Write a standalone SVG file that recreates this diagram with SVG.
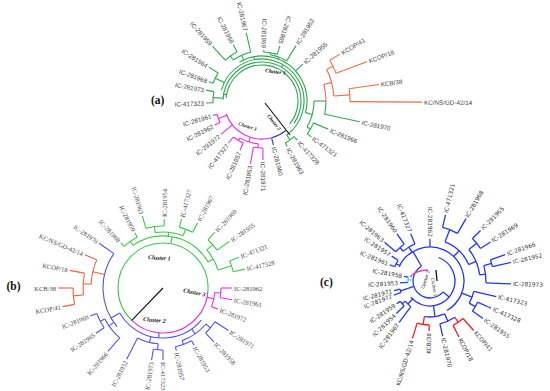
<svg xmlns="http://www.w3.org/2000/svg" width="550" height="391" viewBox="0 0 550 391">
<style>
circle,path{fill:none}
.ga{stroke:#2ea84e}.ra{stroke:#f26b45}.ma{stroke:#e62ee6}.ba{stroke:#3838d0}.k{stroke:#111}
.gb{stroke:#3cc94c}.rb{stroke:#f0603a}.mb{stroke:#e033e0}.bb{stroke:#5050ee}
.bc{stroke:#2436ee}.rc{stroke:#e8202a}.mc{stroke:#e83fd0}.cc{stroke:#33d6e6}
text{dominant-baseline:central}
.ta{font-family:"Liberation Sans",Arial,sans-serif;font-size:6.3px;fill:#444}
.tb{font-family:"Liberation Serif","Times New Roman",serif;font-size:6.5px;fill:#444}
.tc{font-family:"DejaVu Sans",Verdana,sans-serif;font-size:5.8px;fill:#333}
.e{text-anchor:end}
.cl{font-family:"Liberation Serif","Times New Roman",serif;font-weight:bold;font-style:italic;fill:#111;dominant-baseline:auto}
.cs{font-family:"DejaVu Sans",sans-serif;fill:#222;font-size:4.2px;dominant-baseline:auto}
.pl{font-family:"Liberation Serif","Times New Roman",serif;font-weight:bold;font-size:11.5px;fill:#111;dominant-baseline:auto}
</style>

<!-- ===== Panel (a) ===== -->
<g id="panel-a" transform="translate(262,101)">
<g id="a-connectors" stroke-width="1.1">
<g class="ga">
<circle r="36" pathLength="360" stroke-dasharray="215 360" transform="rotate(185)"/>
<circle r="39" pathLength="360" stroke-dasharray="213 360" transform="rotate(182)"/>
<circle r="42" pathLength="360" stroke-dasharray="219 360" transform="rotate(195)"/>
<circle r="45" pathLength="360" stroke-dasharray="135 360" transform="rotate(240)"/>
<line x1="36" x2="39" transform="rotate(190)"/>
<line x1="39" x2="42" transform="rotate(300)"/>
<line x1="42" x2="45" transform="rotate(260)"/>
<line x1="39" x2="49" transform="rotate(184)"/>
<circle r="49" pathLength="360" stroke-dasharray="13 360" transform="rotate(178)"/>
<line x1="49" x2="56" transform="rotate(178)"/>
<line x1="49" x2="57" transform="rotate(191)"/>
<line x1="42" x2="52" transform="rotate(206)"/>
<circle r="52" pathLength="360" stroke-dasharray="12.5 360" transform="rotate(200)"/>
<line x1="52" x2="56.5" transform="rotate(200)"/>
<line x1="52" x2="63" transform="rotate(212.5)"/>
<line x1="45" x2="50" transform="rotate(246)"/>
<circle r="50" pathLength="360" stroke-dasharray="22 360" transform="rotate(235)"/>
<line x1="50" x2="55" transform="rotate(235)"/>
<circle r="55" pathLength="360" stroke-dasharray="15 360" transform="rotate(228)"/>
<line x1="55" x2="74" transform="rotate(228)"/>
<line x1="55" x2="63" transform="rotate(243)"/>
<line x1="50" x2="70" transform="rotate(257)"/>
<line x1="45" x2="47" transform="rotate(291)"/>
<circle r="47" pathLength="360" stroke-dasharray="21.6 360" transform="rotate(280)"/>
<line x1="47" x2="49" transform="rotate(280)"/>
<circle r="49" pathLength="360" stroke-dasharray="16 360" transform="rotate(272)"/>
<line x1="49" x2="51" transform="rotate(272)"/>
<line x1="49" x2="58" transform="rotate(288)"/>
<line x1="47" x2="65" transform="rotate(301.6)"/>
<line x1="45" x2="55" transform="rotate(318)"/>
<line x1="45" x2="52" transform="rotate(15)"/>
<circle r="52" pathLength="360" stroke-dasharray="30 360"/>
<line x1="52" x2="64"/>
<circle r="64" pathLength="360" stroke-dasharray="12 360"/>
<line x1="64" x2="100" transform="rotate(12)"/>
<line x1="52" x2="56" transform="rotate(30)"/>
<circle r="56" pathLength="360" stroke-dasharray="13 360" transform="rotate(23)"/>
<line x1="56" x2="72" transform="rotate(23)"/>
<line x1="56" x2="61" transform="rotate(36)"/>
<line x1="42" x2="48" transform="rotate(54)"/>
<circle r="48" pathLength="360" stroke-dasharray="13 360" transform="rotate(48)"/>
<line x1="48" x2="53" transform="rotate(48)"/>
<line x1="48" x2="52" transform="rotate(61)"/>
</g>
<g class="ra">
<circle r="64" pathLength="360" stroke-dasharray="15 360" transform="rotate(345)"/>
<line x1="64" x2="72" transform="rotate(345)"/>
<circle r="72" pathLength="360" stroke-dasharray="22 360" transform="rotate(334)"/>
<line x1="72" x2="79" transform="rotate(334)"/>
<circle r="79" pathLength="360" stroke-dasharray="10.5 360" transform="rotate(329)"/>
<line x1="79" x2="91" transform="rotate(329)"/>
<line x1="79" x2="112" transform="rotate(339.5)"/>
<line x1="72" x2="88" transform="rotate(356)"/>
<circle r="88" pathLength="360" stroke-dasharray="8.4 360" transform="rotate(352)"/>
<line x1="88" x2="118" transform="rotate(352)"/>
<line x1="88" x2="160" transform="rotate(0.4)"/>
</g>
<g class="ba">
<circle r="38" pathLength="360" stroke-dasharray="24 360" transform="rotate(51)"/>
<line x1="38" x2="45.5" transform="rotate(75.4)"/>
</g>
<line class="k" x1="3" y1="2" x2="28" y2="34"/>
<g class="ma">
<circle r="38" pathLength="360" stroke-dasharray="85 360" transform="rotate(75)"/>
<line x1="38" x2="47" transform="rotate(158)"/>
<circle r="47" pathLength="360" stroke-dasharray="10.6 360" transform="rotate(153)"/>
<line x1="47" x2="53" transform="rotate(153)"/>
<line x1="47" x2="51" transform="rotate(163.6)"/>
<line x1="38" x2="53" transform="rotate(141)"/>
<line x1="38" x2="43" transform="rotate(108)"/>
<circle r="43" pathLength="360" stroke-dasharray="26 360" transform="rotate(95)"/>
<line x1="43" x2="46" transform="rotate(121)"/>
<circle r="46" pathLength="360" stroke-dasharray="14.5 360" transform="rotate(114)"/>
<line x1="46" x2="54" transform="rotate(114)"/>
<line x1="46" x2="54" transform="rotate(128.5)"/>
<line x1="43" x2="47" transform="rotate(95)"/>
<circle r="47" pathLength="360" stroke-dasharray="11.5 360" transform="rotate(89)"/>
<line x1="47" x2="59" transform="rotate(89)"/>
<line x1="47" x2="64" transform="rotate(100.5)"/>
</g>
</g>
<g id="a-IC-281967"><text class="ta e" x="-72" transform="rotate(77)">IC-281967</text></g>
<g id="a-IC-281958"><text class="ta e" x="-65" transform="rotate(63)">IC-281958</text></g>
<g id="a-IC-281959"><text class="ta e" x="-76" transform="rotate(48)">IC-281959</text></g>
<g id="a-IC-281964"><text class="ta e" x="-65" transform="rotate(32.5)">IC-281964</text></g>
<g id="a-IC-281968"><text class="ta e" x="-58.5" transform="rotate(20)">IC-281968</text></g>
<g id="a-IC-281973"><text class="ta e" x="-59" transform="rotate(10.7)">IC-281973</text></g>
<g id="a-IC-417323"><text class="ta e" x="-58" transform="rotate(-2)">IC-417323</text></g>
<g id="a-IC-281969"><text class="ta e" x="-53" transform="rotate(92)">IC-281969</text></g>
<g id="a-IC-281965"><text class="ta e" x="-60" transform="rotate(108)">IC-281965</text></g>
<g id="a-IC-281952"><text class="ta" x="67" transform="rotate(-58.4)">IC-281952</text></g>
<g id="a-IC-281955"><text class="ta" x="57" transform="rotate(-42)">IC-281955</text></g>
<g id="a-KCOP-41"><text class="ta" x="93" transform="rotate(-31)">KCOP/41</text></g>
<g id="a-KCOP-18"><text class="ta" x="114" transform="rotate(-20.5)">KCOP/18</text></g>
<g id="a-KCB-38"><text class="ta" x="120" transform="rotate(-8)">KCB/38</text></g>
<g id="a-KC-NS-GD-42-14"><text class="ta" x="162" transform="rotate(0.4)">KC/NS/GD-42/14</text></g>
<g id="a-IC-281970"><text class="ta" x="102" transform="rotate(12)">IC-281970</text></g>
<g id="a-IC-281966"><text class="ta" x="74" transform="rotate(23)">IC-281966</text></g>
<g id="a-IC-471321"><text class="ta" x="63" transform="rotate(36)">IC-471321</text></g>
<g id="a-IC-417328"><text class="ta" x="55" transform="rotate(48)">IC-417328</text></g>
<g id="a-IC-281963"><text class="ta" x="54" transform="rotate(61)">IC-281963</text></g>
<g id="a-IC-281960"><text class="ta" x="47.5" transform="rotate(75.4)">IC-281960</text></g>
<g id="a-IC-281971"><text class="ta" x="61" transform="rotate(89)">IC-281971</text></g>
<g id="a-IC-281953"><text class="ta e" x="-66" transform="rotate(-79.5)">IC-281953</text></g>
<g id="a-IC-281957"><text class="ta e" x="-56" transform="rotate(-66)">IC-281957</text></g>
<g id="a-IC-417327"><text class="ta e" x="-56" transform="rotate(-51.5)">IC-417327</text></g>
<g id="a-IC-281972"><text class="ta e" x="-55" transform="rotate(-39)">IC-281972</text></g>
<g id="a-IC-281962"><text class="ta e" x="-55" transform="rotate(-27)">IC-281962</text></g>
<g id="a-IC-281961"><text class="ta e" x="-53" transform="rotate(-16.4)">IC-281961</text></g>
</g>
<g id="a-cluster-labels">
<text class="cl" font-size="5.5" x="265" y="72" transform="rotate(8 265 72)">Cluster 1</text>
<text class="cl" font-size="5" x="267" y="116" transform="rotate(52 267 116)">Cluster 2</text>
<text class="cl" font-size="5" x="238" y="125" transform="rotate(18 238 125)">Cluster 3</text>
</g>
<g id="label-a"><text class="pl" x="151" y="104">(a)</text></g>

<!-- ===== Panel (b) ===== -->
<g id="panel-b" transform="translate(163,288)">
<g id="b-connectors" stroke-width="1.1">
<g class="gb">
<circle r="45" pathLength="360" stroke-dasharray="231 360" transform="rotate(134)"/>
<line x1="45" x2="52" transform="rotate(280)"/>
<circle r="52" pathLength="360" stroke-dasharray="95 360" transform="rotate(235)"/>
<line x1="52" x2="57" transform="rotate(235)"/>
<circle r="57" pathLength="360" stroke-dasharray="16 360" transform="rotate(227)"/>
<line x1="57" x2="62" transform="rotate(227)"/>
<line x1="57" x2="62" transform="rotate(243)"/>
<line x1="52" x2="56" transform="rotate(276)"/>
<circle r="56" pathLength="360" stroke-dasharray="29 360" transform="rotate(262)"/>
<line x1="56" x2="62" transform="rotate(262)"/>
<circle r="62" pathLength="360" stroke-dasharray="17 360" transform="rotate(254)"/>
<line x1="62" x2="75" transform="rotate(254)"/>
<line x1="62" x2="69" transform="rotate(271)"/>
<line x1="56" x2="63" transform="rotate(291)"/>
<circle r="63" pathLength="360" stroke-dasharray="13 360" transform="rotate(285)"/>
<line x1="63" x2="71.5" transform="rotate(285)"/>
<line x1="63" x2="74" transform="rotate(298)"/>
<line x1="52" x2="58" transform="rotate(330)"/>
<circle r="58" pathLength="360" stroke-dasharray="23 360" transform="rotate(319)"/>
<line x1="58" x2="66" transform="rotate(319)"/>
<circle r="66" pathLength="360" stroke-dasharray="12 360" transform="rotate(313)"/>
<line x1="66" x2="76" transform="rotate(313)"/>
<line x1="66" x2="81" transform="rotate(325)"/>
<line x1="58" x2="72" transform="rotate(342)"/>
<circle r="72" pathLength="360" stroke-dasharray="9 360" transform="rotate(338)"/>
<line x1="72" x2="82" transform="rotate(338)"/>
<line x1="72" x2="84" transform="rotate(347)"/>
</g>
<g class="mb">
<circle r="45" pathLength="360" stroke-dasharray="129 360" transform="rotate(5)"/>
<line x1="45" x2="52" transform="rotate(12)"/>
<circle r="52" pathLength="360" stroke-dasharray="16 360" transform="rotate(5)"/>
<line x1="52" x2="59" transform="rotate(21)"/>
<line x1="52" x2="58" transform="rotate(5)"/>
<circle r="58" pathLength="360" stroke-dasharray="9.6 360"/>
<line x1="58" x2="69"/>
<line x1="58" x2="70" transform="rotate(9.6)"/>
</g>
<line class="k" x1="0" x2="45" transform="rotate(134)"/>
<g class="bb">
<line x1="45" x2="50" transform="rotate(95)"/>
<circle r="50" pathLength="360" stroke-dasharray="110 360" transform="rotate(40)"/>
<line x1="50" x2="60" transform="rotate(150)"/>
<circle r="60" pathLength="360" stroke-dasharray="75 360" transform="rotate(140)"/>
<line x1="60" x2="78" transform="rotate(215)"/>
<line x1="60" x2="66" transform="rotate(145)"/>
<circle r="66" pathLength="360" stroke-dasharray="21 360" transform="rotate(131)"/>
<line x1="66" x2="84" transform="rotate(131)"/>
<line x1="66" x2="71" transform="rotate(152)"/>
<circle r="71" pathLength="360" stroke-dasharray="13 360" transform="rotate(146)"/>
<line x1="71" x2="81" transform="rotate(146)"/>
<line x1="71" x2="78" transform="rotate(159)"/>
<line x1="50" x2="56" transform="rotate(104)"/>
<circle r="56" pathLength="360" stroke-dasharray="22 360" transform="rotate(95)"/>
<line x1="56" x2="80" transform="rotate(117)"/>
<line x1="56" x2="62" transform="rotate(95)"/>
<circle r="62" pathLength="360" stroke-dasharray="9 360" transform="rotate(90)"/>
<line x1="62" x2="73" transform="rotate(99)"/>
<line x1="62" x2="72" transform="rotate(90)"/>
<line x1="50" x2="56" transform="rotate(55)"/>
<circle r="56" pathLength="360" stroke-dasharray="30 360" transform="rotate(40)"/>
<line x1="56" x2="60" transform="rotate(70)"/>
<circle r="60" pathLength="360" stroke-dasharray="16.5 360" transform="rotate(61.5)"/>
<line x1="60" x2="64" transform="rotate(78)"/>
<line x1="60" x2="65" transform="rotate(61.5)"/>
<line x1="56" x2="62" transform="rotate(40)"/>
<circle r="62" pathLength="360" stroke-dasharray="13.6 360" transform="rotate(33)"/>
<line x1="62" x2="78" transform="rotate(33)"/>
<line x1="62" x2="74" transform="rotate(46.6)"/>
</g>
<g class="rb">
<line x1="60" x2="72" transform="rotate(193)"/>
<circle r="72" pathLength="360" stroke-dasharray="20 360" transform="rotate(183)"/>
<line x1="72" x2="85" transform="rotate(203)"/>
<line x1="72" x2="80" transform="rotate(183)"/>
<circle r="80" pathLength="360" stroke-dasharray="15.7 360" transform="rotate(175)"/>
<line x1="80" x2="95" transform="rotate(190.7)"/>
<line x1="80" x2="90" transform="rotate(175)"/>
<circle r="90" pathLength="360" stroke-dasharray="10.5 360" transform="rotate(169.5)"/>
<line x1="90" x2="105" transform="rotate(180)"/>
<line x1="90" x2="102" transform="rotate(169.5)"/>
</g>
</g>
<g id="b-IC-281962"><text class="tb" x="71">IC-281962</text></g>
<g id="b-IC-281961"><text class="tb" x="72" transform="rotate(9.6)">IC-281961</text></g>
<g id="b-IC-281972"><text class="tb" x="61" transform="rotate(21)">IC-281972</text></g>
<g id="b-IC-281971"><text class="tb" x="80" transform="rotate(33)">IC-281971</text></g>
<g id="b-IC-281958"><text class="tb" x="76" transform="rotate(46.6)">IC-281958</text></g>
<g id="b-IC-281953"><text class="tb" x="67" transform="rotate(61.5)">IC-281953</text></g>
<g id="b-IC-281957"><text class="tb" x="66" transform="rotate(78)">IC-281957</text></g>
<g id="b-IC-417323"><text class="tb" x="74" transform="rotate(90)">IC-417323</text></g>
<g id="b-IC-281973"><text class="tb e" x="-75" transform="rotate(-81)">IC-281973</text></g>
<g id="b-IC-281952"><text class="tb e" x="-82" transform="rotate(-63)">IC-281952</text></g>
<g id="b-IC-281966"><text class="tb e" x="-86" transform="rotate(-49)">IC-281966</text></g>
<g id="b-IC-281965"><text class="tb e" x="-83" transform="rotate(-34)">IC-281965</text></g>
<g id="b-IC-281969"><text class="tb e" x="-80" transform="rotate(-21)">IC-281969</text></g>
<g id="b-KCOP-41"><text class="tb e" x="-104" transform="rotate(-10.5)">KCOP/41</text></g>
<g id="b-KCB-38"><text class="tb e" x="-107">KCB/38</text></g>
<g id="b-KCOP-18"><text class="tb e" x="-97" transform="rotate(10.7)">KCOP/18</text></g>
<g id="b-KC-NS-GD-42-14"><text class="tb e" x="-87" transform="rotate(23)">KC/NS/GD-42/14</text></g>
<g id="b-IC-281970"><text class="tb e" x="-80" transform="rotate(35)">IC-281970</text></g>
<g id="b-IC-281968"><text class="tb e" x="-64" transform="rotate(47)">IC-281968</text></g>
<g id="b-IC-281959"><text class="tb e" x="-64" transform="rotate(63)">IC-281959</text></g>
<g id="b-IC-281963"><text class="tb e" x="-77" transform="rotate(74)">IC-281963</text></g>
<g id="b-IC-281954"><text class="tb" x="71" transform="rotate(-89)">IC-281954</text></g>
<g id="b-IC-417327"><text class="tb" x="73.5" transform="rotate(-75)">IC-417327</text></g>
<g id="b-IC-281967"><text class="tb" x="76" transform="rotate(-62)">IC-281967</text></g>
<g id="b-IC-281960"><text class="tb" x="78" transform="rotate(-47)">IC-281960</text></g>
<g id="b-IC-281955"><text class="tb" x="83" transform="rotate(-35)">IC-281955</text></g>
<g id="b-IC-471321"><text class="tb" x="84" transform="rotate(-22)">IC-471321</text></g>
<g id="b-IC-417328"><text class="tb" x="86" transform="rotate(-13)">IC-417328</text></g>
</g>
<g id="b-cluster-labels">
<text class="cl" font-size="6" x="148" y="259" transform="rotate(4 148 259)">Cluster 1</text>
<text class="cl" font-size="6" x="143" y="321" transform="rotate(5 143 321)">Cluster 2</text>
<text class="cl" font-size="6" x="183" y="292" transform="rotate(12 183 292)">Cluster 3</text>
</g>
<g id="label-b"><text class="pl" x="6.5" y="290">(b)</text></g>

<!-- ===== Panel (c) ===== -->
<g id="panel-c" transform="translate(430,281)">
<g id="c-connectors" stroke-width="1.3">
<g class="bc">
<circle r="17" pathLength="360" stroke-dasharray="200 360" transform="rotate(40)"/>
<circle r="25" pathLength="360" stroke-dasharray="210 360" transform="rotate(290)"/>
<line x1="17" x2="25" transform="rotate(40)"/>
<circle r="34" pathLength="360" stroke-dasharray="215 360" transform="rotate(205)"/>
<line x1="17" x2="34" transform="rotate(240)"/>
<line x1="34" x2="38" transform="rotate(207)"/>
<circle r="38" pathLength="360" stroke-dasharray="11 360" transform="rotate(202)"/>
<line x1="38" x2="43.3" transform="rotate(202)"/>
<line x1="38" x2="45.7" transform="rotate(213)"/>
<line x1="34" x2="40" transform="rotate(238)"/>
<circle r="40" pathLength="360" stroke-dasharray="20 360" transform="rotate(228)"/>
<line x1="40" x2="51" transform="rotate(247.8)"/>
<line x1="40" x2="45" transform="rotate(228)"/>
<circle r="45" pathLength="360" stroke-dasharray="14.6 360" transform="rotate(220.4)"/>
<line x1="45" x2="59.7" transform="rotate(220.4)"/>
<line x1="45" x2="57.6" transform="rotate(235)"/>
<line x1="34" x2="42" transform="rotate(270)"/>
<line x1="34" x2="42" transform="rotate(314)"/>
<circle r="42" pathLength="360" stroke-dasharray="46 360" transform="rotate(291)"/>
<line x1="42" x2="55" transform="rotate(291)"/>
<circle r="55" pathLength="360" stroke-dasharray="16.8 360" transform="rotate(283.2)"/>
<line x1="55" x2="68" transform="rotate(283.2)"/>
<line x1="55" x2="72" transform="rotate(300)"/>
<line x1="42" x2="50" transform="rotate(337)"/>
<circle r="50" pathLength="360" stroke-dasharray="32 360" transform="rotate(321)"/>
<line x1="50" x2="60" transform="rotate(321)"/>
<circle r="60" pathLength="360" stroke-dasharray="12.2 360" transform="rotate(315)"/>
<line x1="60" x2="71.5" transform="rotate(315)"/>
<line x1="60" x2="72" transform="rotate(327.2)"/>
<line x1="50" x2="56" transform="rotate(353)"/>
<circle r="56" pathLength="360" stroke-dasharray="18 360" transform="rotate(344)"/>
<line x1="56" x2="81" transform="rotate(2)"/>
<line x1="56" x2="64" transform="rotate(344)"/>
<circle r="64" pathLength="360" stroke-dasharray="6.4 360" transform="rotate(340.7)"/>
<line x1="64" x2="79.6" transform="rotate(340.7)"/>
<line x1="64" x2="83" transform="rotate(347.1)"/>
<line x1="34" x2="45" transform="rotate(21)"/>
<circle r="45" pathLength="360" stroke-dasharray="16.3 360" transform="rotate(13.2)"/>
<line x1="45" x2="68" transform="rotate(13.2)"/>
<line x1="45" x2="52" transform="rotate(29.5)"/>
<circle r="52" pathLength="360" stroke-dasharray="11.3 360" transform="rotate(24)"/>
<line x1="52" x2="67" transform="rotate(24)"/>
<line x1="52" x2="65" transform="rotate(35.3)"/>
<line x1="25" x2="36" transform="rotate(82)"/>
<circle r="36" pathLength="360" stroke-dasharray="33 360" transform="rotate(66)"/>
<line x1="36" x2="44" transform="rotate(66)"/>
<circle r="44" pathLength="360" stroke-dasharray="21.4 360" transform="rotate(55.6)"/>
<line x1="44" x2="56.5" transform="rotate(77)"/>
<line x1="25" x2="32" transform="rotate(134)"/>
<circle r="32" pathLength="360" stroke-dasharray="14.3 360" transform="rotate(126.7)"/>
<line x1="32" x2="51.6" transform="rotate(126.7)"/>
<line x1="32" x2="36" transform="rotate(141)"/>
<circle r="36" pathLength="360" stroke-dasharray="9.6 360" transform="rotate(136)"/>
<line x1="36" x2="46.8" transform="rotate(136)"/>
<line x1="36" x2="40.4" transform="rotate(145.6)"/>
<line x1="17" x2="31" transform="rotate(161.5)"/>
<circle r="31" pathLength="360" stroke-dasharray="6.5 360" transform="rotate(158.5)"/>
<line x1="31" x2="38.9" transform="rotate(158.5)"/>
<line x1="31" x2="37.3" transform="rotate(165)"/>
<line x1="22" x2="30" transform="rotate(176.4)"/>
<line x1="22" x2="26.4" transform="rotate(190)"/>
</g>
<g class="rc">
<line x1="44" x2="50" transform="rotate(55.6)"/>
<circle r="50" pathLength="360" stroke-dasharray="14 360" transform="rotate(48.6)"/>
<line x1="50" x2="66" transform="rotate(48.6)"/>
<line x1="50" x2="63" transform="rotate(62.6)"/>
<line x1="36" x2="44" transform="rotate(99)"/>
<circle r="44" pathLength="360" stroke-dasharray="16 360" transform="rotate(91)"/>
<line x1="44" x2="50" transform="rotate(91)"/>
<line x1="44" x2="60" transform="rotate(107)"/>
</g>
<g class="cc">
<line x1="17" x2="22" transform="rotate(183)"/>
<circle r="22" pathLength="360" stroke-dasharray="13.6 360" transform="rotate(176.4)"/>
</g>
<path class="mc" d="M-20,-4 Q-14,-11 -2,-11"/>
<line class="k" x1="6" y1="-11" x2="7" y2="0"/>
</g>
<g id="c-IC-471321"><text class="tc" x="70" transform="rotate(-76.8)">IC-471321</text></g>
<g id="c-IC-281968"><text class="tc" x="74" transform="rotate(-60)">IC-281968</text></g>
<g id="c-IC-281965"><text class="tc" x="73.5" transform="rotate(-45)">IC-281965</text></g>
<g id="c-IC-281969"><text class="tc" x="74" transform="rotate(-32.8)">IC-281969</text></g>
<g id="c-IC-281966"><text class="tc" x="81.6" transform="rotate(-19.3)">IC-281966</text></g>
<g id="c-IC-281952"><text class="tc" x="85" transform="rotate(-12.9)">IC-281952</text></g>
<g id="c-IC-281973"><text class="tc" x="83" transform="rotate(2)">IC-281973</text></g>
<g id="c-IC-417323"><text class="tc" x="70" transform="rotate(13.2)">IC-417323</text></g>
<g id="c-IC-417328"><text class="tc" x="69" transform="rotate(24)">IC-417328</text></g>
<g id="c-IC-281955"><text class="tc" x="67" transform="rotate(35.3)">IC-281955</text></g>
<g id="c-KCOP-41"><text class="tc" x="68" transform="rotate(48.6)">KCOP/41</text></g>
<g id="c-KCOP-18"><text class="tc" x="65" transform="rotate(62.6)">KCOP/18</text></g>
<g id="c-IC-281970"><text class="tc" x="58.5" transform="rotate(77)">IC-281970</text></g>
<g id="c-KCB-38"><text class="tc e" x="-52" transform="rotate(-89)">KCB/38</text></g>
<g id="c-KC-NS-GD-42-14"><text class="tc e" x="-62" transform="rotate(-73)">KC/NS/GD-42/14</text></g>
<g id="c-IC-281967"><text class="tc e" x="-53.6" transform="rotate(-53.3)">IC-281967</text></g>
<g id="c-IC-281954"><text class="tc e" x="-48.8" transform="rotate(-44)">IC-281954</text></g>
<g id="c-IC-281959"><text class="tc e" x="-42.4" transform="rotate(-34.4)">IC-281959</text></g>
<g id="c-IC-281972"><text class="tc e" x="-40.9" transform="rotate(-21.5)">IC-281972</text></g>
<g id="c-IC-281971"><text class="tc e" x="-39.3" transform="rotate(-15)">IC-281971</text></g>
<g id="c-IC-281953"><text class="tc e" x="-32" transform="rotate(-3.6)">IC-281953</text></g>
<g id="c-IC-281958"><text class="tc e" x="-28.4" transform="rotate(10)">IC-281958</text></g>
<g id="c-IC-281961"><text class="tc e" x="-45.3" transform="rotate(22)">IC-281961</text></g>
<g id="c-IC-281957"><text class="tc e" x="-47.7" transform="rotate(33)">IC-281957</text></g>
<g id="c-IC-281963"><text class="tc e" x="-61.7" transform="rotate(40.4)">IC-281963</text></g>
<g id="c-IC-281960"><text class="tc e" x="-59.6" transform="rotate(55)">IC-281960</text></g>
<g id="c-IC-417327"><text class="tc e" x="-53" transform="rotate(67.8)">IC-417327</text></g>
<g id="c-IC-281962"><text class="tc e" x="-44" transform="rotate(90)">IC-281962</text></g>
</g>
<g id="c-cluster-labels">
<text class="cs" x="424" y="289" transform="rotate(-72 424 289)">Cluster 2</text>
<text class="cs" x="431" y="278" transform="rotate(80 431 278)">Cluster 1</text>
</g>
<g id="label-c"><text class="pl" x="320" y="286">(c)</text></g>
</svg>
